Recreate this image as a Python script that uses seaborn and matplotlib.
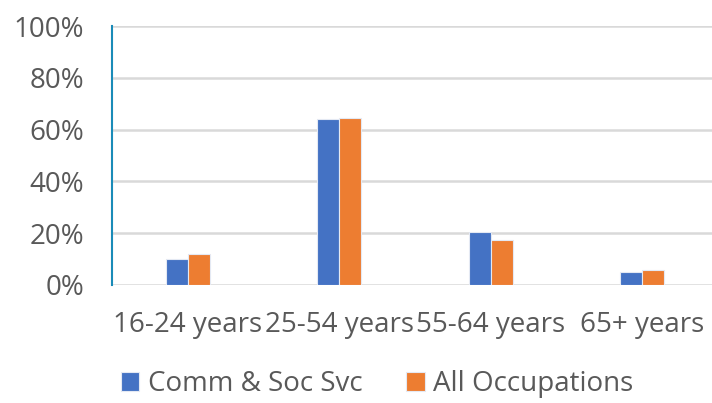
import pandas as pd
import seaborn as sns
import matplotlib.pyplot as plt
from matplotlib.ticker import PercentFormatter

age_groups = ["16-24 years", "25-54 years", "55-64 years", "65+ years"]
comm_soc_svc = [10.2, 64.1, 20.5, 5.0]
all_occupations = [12.0, 64.6, 17.2, 5.7]
series_names = ["Comm & Soc Svc", "All Occupations"]

df = pd.DataFrame({
    "age": age_groups * 2,
    "share": comm_soc_svc + all_occupations,
    "series": [series_names[0]] * 4 + [series_names[1]] * 4,
})

sns.set_theme(style="white")
plt.rcParams["font.family"] = ["Open Sans", "DejaVu Sans"]
txt = "#595959"

fig = plt.figure(figsize=(7.12, 4.03), dpi=100)
ax = fig.add_axes([0.157, 0.293, 0.843, 0.642])

sns.barplot(data=df, x="age", y="share", hue="series", ax=ax,
            palette=["#4472C4", "#ED7D31"], saturation=1, width=0.29, gap=0,
            edgecolor="#e4e9f3", linewidth=0.8, zorder=3)

ax.set_ylim(0, 100)
ax.set_xlim(-0.5, 3.46)
ax.set_yticks(range(0, 101, 20))
ax.yaxis.set_major_formatter(PercentFormatter(decimals=0))
ax.grid(axis="y", color="#d9d9d9", linewidth=1.8, zorder=0)
ax.set_xlabel("")
ax.set_ylabel("")
for s in ["top", "right", "bottom"]:
    ax.spines[s].set_visible(False)
ax.spines["left"].set_color("#1a8bb8")
ax.spines["left"].set_linewidth(1.5)
ax.tick_params(axis="y", labelsize=20, labelcolor=txt, pad=20, length=0)
ax.tick_params(axis="x", labelsize=20, labelcolor=txt, pad=19, length=0)

handles, labels = ax.get_legend_handles_labels()
ax.get_legend().remove()
fig.legend(handles, labels, loc="center left", bbox_to_anchor=(121 / 712, 1 - 384 / 403),
           ncol=2, frameon=False, fontsize=20, labelcolor=txt,
           handlelength=0.65, handleheight=0.65, handletextpad=0.32,
           columnspacing=1.58, borderpad=0, borderaxespad=0)

fig.savefig("out.png", dpi=100)
